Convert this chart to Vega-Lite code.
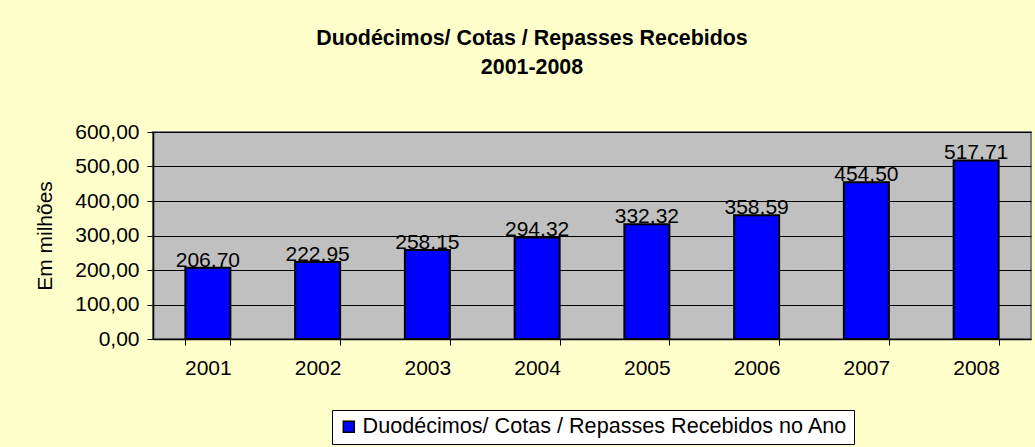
{
  "$schema": "https://vega.github.io/schema/vega-lite/v6.json",
  "width": 878,
  "height": 207,
  "autosize": {"type": "none"},
  "padding": {"left": 153, "top": 132, "right": 4, "bottom": 108},
  "background": "#FFFFCC",
  "title": {
    "text": ["Duodécimos/ Cotas / Repasses Recebidos", "2001-2008"],
    "font": "Liberation Sans",
    "fontSize": 21.4,
    "fontWeight": "bold",
    "lineHeight": 28.5,
    "color": "#000000",
    "anchor": "middle",
    "dx": -60,
    "offset": 43
  },
  "config": {
    "locale": {"number": {"decimal": ",", "thousands": ".", "grouping": [3], "currency": ["R$", ""]}},
    "font": "Liberation Sans",
    "view": {"fill": "#C0C0C0", "stroke": "#808080", "strokeWidth": 2}
  },
  "data": {
    "values": [
      {"ano": "2001", "valor": 206.70, "serie": "Duodécimos/ Cotas / Repasses Recebidos no Ano"},
      {"ano": "2002", "valor": 222.95, "serie": "Duodécimos/ Cotas / Repasses Recebidos no Ano"},
      {"ano": "2003", "valor": 258.15, "serie": "Duodécimos/ Cotas / Repasses Recebidos no Ano"},
      {"ano": "2004", "valor": 294.32, "serie": "Duodécimos/ Cotas / Repasses Recebidos no Ano"},
      {"ano": "2005", "valor": 332.32, "serie": "Duodécimos/ Cotas / Repasses Recebidos no Ano"},
      {"ano": "2006", "valor": 358.59, "serie": "Duodécimos/ Cotas / Repasses Recebidos no Ano"},
      {"ano": "2007", "valor": 454.50, "serie": "Duodécimos/ Cotas / Repasses Recebidos no Ano"},
      {"ano": "2008", "valor": 517.71, "serie": "Duodécimos/ Cotas / Repasses Recebidos no Ano"}
    ]
  },
  "encoding": {
    "x": {
      "field": "ano",
      "type": "ordinal",
      "title": null,
      "scale": {"paddingInner": 0.59, "paddingOuter": 0.295},
      "axis": {
        "labelAngle": 0,
        "labelFontSize": 21,
        "labelColor": "#000000",
        "labelPadding": 12,
        "domainColor": "#000000",
        "domainWidth": 1.5,
        "tickColor": "#000000",
        "tickBand": "extent",
        "tickSize": 6,
        "grid": false
      }
    },
    "y": {
      "field": "valor",
      "type": "quantitative",
      "title": "Em milhões",
      "scale": {"domain": [0, 600], "nice": false},
      "axis": {
        "values": [0, 100, 200, 300, 400, 500, 600],
        "format": ".2f",
        "labelFontSize": 21,
        "labelColor": "#000000",
        "labelPadding": 8,
        "titleFontSize": 21,
        "titleFontWeight": "normal",
        "titleColor": "#000000",
        "titlePadding": 19,
        "domainColor": "#000000",
        "domainWidth": 1.5,
        "tickColor": "#000000",
        "tickSize": 6,
        "grid": true,
        "gridColor": "#000000",
        "gridWidth": 1,
        "gridOpacity": 1
      }
    }
  },
  "layer": [
    {
      "mark": {"type": "bar", "stroke": "#000000", "strokeWidth": 2},
      "encoding": {
        "color": {
          "field": "serie",
          "type": "nominal",
          "scale": {"range": ["#0000FF"]},
          "legend": {
            "orient": "none",
            "legendX": 179,
            "legendY": 278,
            "title": null,
            "symbolType": "square",
            "symbolSize": 121,
            "symbolFillColor": "#0000FF",
            "symbolStrokeColor": "#000000",
            "symbolStrokeWidth": 1.5,
            "symbolOpacity": 1,
            "labelFontSize": 21.6,
            "labelColor": "#000000",
            "labelLimit": 700,
            "labelOffset": 3,
            "padding": 6,
            "fillColor": "#FFFFFF",
            "strokeColor": "#000000"
          }
        }
      }
    },
    {
      "mark": {"type": "text", "baseline": "alphabetic", "fontSize": 21, "color": "#000000", "dy": -1},
      "encoding": {
        "text": {"field": "valor", "type": "quantitative", "format": ".2f"}
      }
    }
  ]
}
